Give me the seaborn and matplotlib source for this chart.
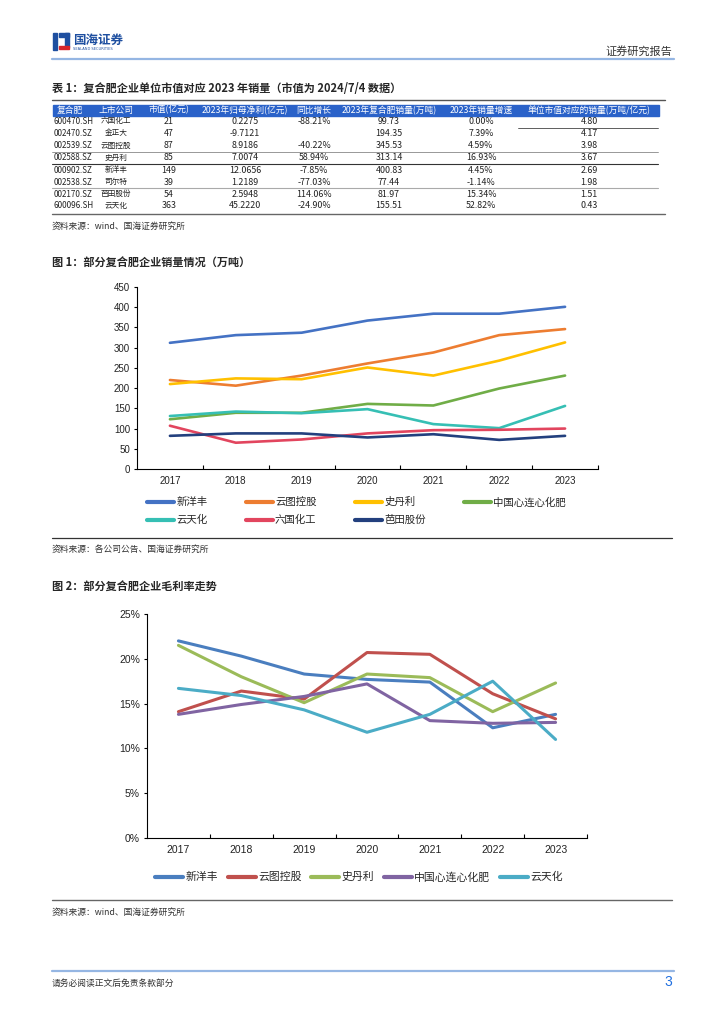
import seaborn as sns
import matplotlib.pyplot as plt
import pandas as pd
from matplotlib.patches import Rectangle
from matplotlib.ticker import FixedLocator, FuncFormatter

# ---------------- 数据 ----------------
years = ['2017', '2018', '2019', '2020', '2021', '2022', '2023']

# 图1 销量(万吨)
names1 = ['新洋丰', '云图控股', '史丹利', '中国心连心化肥', '云天化', '六国化工', '芭田股份']
sales_xyf = [312, 331, 337, 367, 384, 384, 401]
sales_ytkg = [220, 206, 231, 261, 288, 331, 346]
sales_sdl = [210, 224, 222, 251, 231, 268, 313]
sales_xlx = [123, 139, 139, 161, 157, 199, 231]
sales_ytx = [131, 142, 138, 148, 111, 101, 156]
sales_lghg = [107, 65, 73, 88, 96, 97, 100]
sales_btgf = [82, 88, 88, 78, 86, 72, 82]
colors1 = ['#4472C4', '#ED7D31', '#FFC000', '#70AD47', '#36BFB4', '#E2455E', '#23407E']

# 图2 毛利率(%)
names2 = ['新洋丰', '云图控股', '史丹利', '中国心连心化肥', '云天化']
gm_xyf = [22.0, 20.3, 18.3, 17.7, 17.4, 12.3, 13.8]
gm_ytkg = [14.1, 16.4, 15.5, 20.7, 20.5, 16.1, 13.3]
gm_sdl = [21.5, 18.0, 15.1, 18.3, 17.9, 14.1, 17.3]
gm_xlx = [13.8, 14.9, 15.8, 17.2, 13.1, 12.8, 12.9]
gm_ytx = [16.7, 15.9, 14.3, 11.8, 13.8, 17.5, 11.0]
colors2 = ['#4A7EBF', '#C0504D', '#9BBB59', '#8064A2', '#4BACC6']

# 表1
tbl_header = ['复合肥', '上市公司', '市值(亿元)', '2023年归母净利(亿元)', '同比增长',
              '2023年复合肥销量(万吨)', '2023年销量增速', '单位市值对应的销量(万吨/亿元)']
codes = ['600470.SH', '002470.SZ', '002539.SZ', '002588.SZ', '000902.SZ', '002538.SZ', '002170.SZ', '600096.SH']
companies = ['六国化工', '金正大', '云图控股', '史丹利', '新洋丰', '司尔特', '芭田股份', '云天化']
mktcap = ['21', '47', '87', '85', '149', '39', '54', '363']
profit = ['0.2275', '-9.7121', '8.9186', '7.0074', '12.0656', '1.2189', '2.5948', '45.2220']
profit_yoy = ['-88.21%', '', '-40.22%', '58.94%', '-7.85%', '-77.03%', '114.06%', '-24.90%']
volume = ['99.73', '194.35', '345.53', '313.14', '400.83', '77.44', '81.97', '155.51']
vol_growth = ['0.00%', '7.39%', '4.59%', '16.93%', '4.45%', '-1.14%', '15.34%', '52.82%']
vol_per_cap = ['4.80', '4.17', '3.98', '3.67', '2.69', '1.98', '1.51', '0.43']

sns.set_theme(style='white')
plt.rcParams['font.family'] = ['Noto Sans CJK SC', 'DejaVu Sans']
plt.rcParams['axes.unicode_minus'] = False

W, H = 724, 1024
fig = plt.figure(figsize=(7.24, 10.24), dpi=100)

# 背景层：像素坐标
bg = fig.add_axes([0, 0, 1, 1])
bg.set_xlim(0, W)
bg.set_ylim(H, 0)
bg.axis('off')

def px_rect(l, t, r, b):
    return [l / W, 1 - b / H, (r - l) / W, (b - t) / H]

# 页眉
bg.add_patch(Rectangle((53, 33), 4, 17, color='#1E4FA0'))
bg.add_patch(Rectangle((59, 33), 10, 4, color='#1E4FA0'))
bg.add_patch(Rectangle((65, 33), 4, 14, color='#1E4FA0'))
bg.add_patch(Rectangle((59, 46), 10, 3, color='#D7262B'))
bg.text(73, 40, '国海证券', fontsize=9, fontweight='bold', color='#1E4FA0', va='center')
bg.text(73, 48.5, 'SEALAND SECURITIES', fontsize=2.6, color='#1E4FA0', va='center',
        family='DejaVu Sans')
bg.text(672, 51, '证券研究报告', fontsize=8, color='#333333', ha='right', va='center')
bg.plot([52, 674], [59, 59], color='#95B6E3', lw=1.6)

# 表1
bg.text(52, 88, '表 1：复合肥企业单位市值对应 2023 年销量（市值为 2024/7/4 数据）',
        fontsize=8, fontweight='bold', va='center')
bg.plot([52, 665], [99.5, 99.5], color='#555555', lw=1.0)
bg.add_patch(Rectangle((52.5, 104.5), 606, 11, color='#2A62C9'))
col_x = [70, 116, 169, 245, 314, 389, 481, 589]
for cx, txt in zip(col_x, tbl_header):
    bg.text(cx, 110, txt, fontsize=6.3, color='white', ha='center', va='center')
row_y = [121.3, 133.5, 145.8, 158.0, 170.3, 182.3, 194.2, 206.0]
for i, ry in enumerate(row_y):
    bg.text(53.5, ry, codes[i], fontsize=5.8, color='#222222', ha='left', va='center')
    bg.text(col_x[1], ry, companies[i], fontsize=5.5, color='#222222', ha='center', va='center')
    row = [mktcap[i], profit[i], profit_yoy[i], volume[i], vol_growth[i], vol_per_cap[i]]
    for cx, txt in zip(col_x[2:], row):
        bg.text(cx, ry, txt, fontsize=6.4, color='#222222', ha='center', va='center')
bg.plot([518, 658], [127.5, 127.5], color='#444444', lw=0.6)
bg.plot([52, 658], [152.2, 152.2], color='#888888', lw=0.6)
bg.plot([52, 658], [164.3, 164.3], color='#333333', lw=0.8)
bg.plot([52, 658], [188.3, 188.3], color='#aaaaaa', lw=0.8)
bg.plot([52, 665], [213.5, 213.5], color='#666666', lw=1.0)
bg.text(52, 226, '资料来源：wind、国海证券研究所', fontsize=6.3, color='#333333', va='center')

# 图1
bg.text(52, 262, '图 1：部分复合肥企业销量情况（万吨）', fontsize=8, fontweight='bold', va='center')
df1 = pd.DataFrame({'year': years * 7,
                    'company': sum([[n] * 7 for n in names1], []),
                    'value': sales_xyf + sales_ytkg + sales_sdl + sales_xlx
                    + sales_ytx + sales_lghg + sales_btgf})
ax1 = fig.add_axes(px_rect(137, 287, 598, 469))
sns.lineplot(data=df1, x='year', y='value', hue='company', hue_order=names1,
             palette=dict(zip(names1, colors1)), linewidth=1.9, sort=False,
             errorbar=None, legend=False, ax=ax1)
ax1.set_xlim(-0.5, 6.5)
ax1.set_ylim(0, 450)
ax1.set_yticks(range(0, 451, 50))
ax1.set_xlabel('')
ax1.set_ylabel('')

# 图2
bg.text(52, 586, '图 2：部分复合肥企业毛利率走势', fontsize=8, fontweight='bold', va='center')
df2 = pd.DataFrame({'year': years * 5,
                    'company': sum([[n] * 7 for n in names2], []),
                    'value': gm_xyf + gm_ytkg + gm_sdl + gm_xlx + gm_ytx})
ax2 = fig.add_axes(px_rect(147, 614, 587, 838))
sns.lineplot(data=df2, x='year', y='value', hue='company', hue_order=names2,
             palette=dict(zip(names2, colors2)), linewidth=2.2, sort=False,
             errorbar=None, legend=False, ax=ax2)
ax2.set_xlim(-0.5, 6.5)
ax2.set_ylim(0, 25)
ax2.set_yticks(range(0, 26, 5))
ax2.yaxis.set_major_formatter(FuncFormatter(lambda v, p: f'{v:.0f}%'))
ax2.set_xlabel('')
ax2.set_ylabel('')

for ax, fs in [(ax1, 7), (ax2, 7.5)]:
    for s in ['top', 'right']:
        ax.spines[s].set_visible(False)
    for s in ['left', 'bottom']:
        ax.spines[s].set_color('black')
        ax.spines[s].set_linewidth(0.8)
    ax.set_xticks(range(7))
    ax.set_xticklabels(years)
    ax.xaxis.set_minor_locator(FixedLocator([k + 0.5 for k in range(7)]))
    ax.tick_params(axis='x', which='major', length=0, pad=5, labelsize=fs, colors='#222222')
    ax.tick_params(axis='x', which='minor', direction='in', length=3, width=0.8,
                   color='black', bottom=True)
    ax.tick_params(axis='y', which='major', direction='out', length=2, width=0.8,
                   color='black', left=True, labelsize=fs, labelcolor='#222222', pad=3)
    for lab in ax.get_xticklabels() + ax.get_yticklabels():
        lab.set_family('Liberation Sans')

# 图1图例：按行排列
h1 = ax1.get_lines()[:7]
order = [0, 4, 1, 5, 2, 6, 3]
leg1 = ax1.legend([h1[i] for i in order], [names1[i] for i in order], ncol=4,
                  loc='upper left', bbox_to_anchor=(147 / W, 1 - 497 / H),
                  bbox_transform=fig.transFigure, frameon=False, fontsize=7.5,
                  handlelength=2.6, handletextpad=0.2, columnspacing=3.7,
                  labelspacing=0.75, borderpad=0, borderaxespad=0)
for ln in leg1.get_lines():
    ln.set_linewidth(3)
bg.plot([52, 672], [538, 538], color='#333333', lw=0.9)
bg.text(52, 549, '资料来源：各公司公告、国海证券研究所', fontsize=6.3, color='#333333', va='center')

# 图2图例
h2 = ax2.get_lines()[:5]
leg2 = ax2.legend(h2, names2, ncol=5, loc='center',
                  bbox_to_anchor=(359 / W, 1 - 877 / H),
                  bbox_transform=fig.transFigure, frameon=False, fontsize=7.8,
                  handlelength=2.6, handletextpad=0.2, columnspacing=0.9,
                  borderpad=0, borderaxespad=0)
for ln in leg2.get_lines():
    ln.set_linewidth(3)
bg.plot([52, 672], [900, 900], color='#666666', lw=1.0)
bg.text(52, 912, '资料来源：wind、国海证券研究所', fontsize=6.3, color='#333333', va='center')

# 页脚
bg.plot([52, 674], [970.5, 970.5], color='#95B6E3', lw=1.6)
bg.text(52, 983, '请务必阅读正文后免责条款部分', fontsize=6.3, color='#333333', va='center')
bg.text(672, 982, '3', fontsize=10, color='#1F6FE0', ha='right', va='center',
        family='Liberation Sans')

fig.savefig('out.png', dpi=100)
